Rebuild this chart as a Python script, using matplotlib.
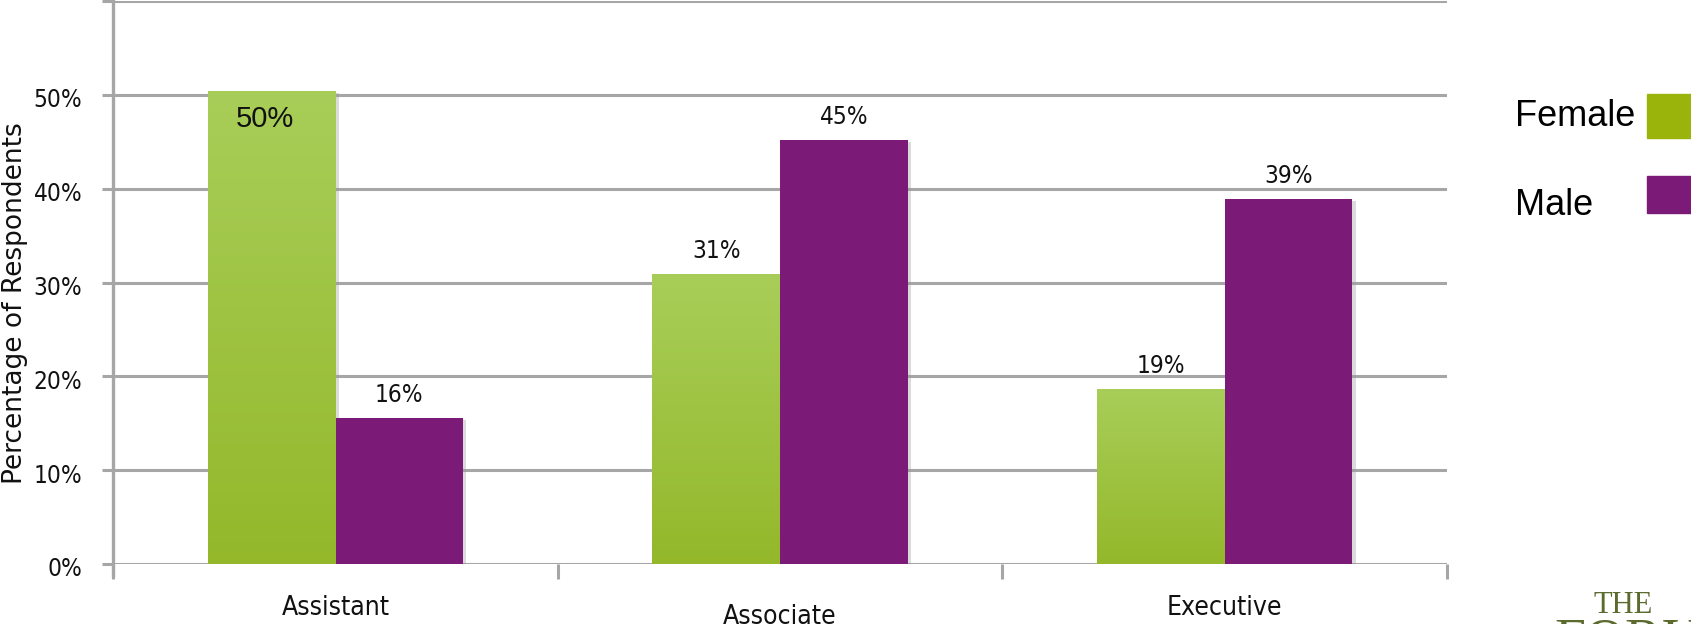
import numpy as np
import matplotlib
matplotlib.use("Agg")
import matplotlib.pyplot as plt
from matplotlib.patheffects import SimplePatchShadow, Normal
from matplotlib.ticker import FuncFormatter
from matplotlib.transforms import ScaledTranslation
from matplotlib import font_manager

# Survey data: share of respondents by position level and gender
categories = ["Assistant", "Associate", "Executive"]
female = [50.4, 30.9, 18.6]
male = [15.6, 45.2, 38.9]
series_names = ["Female", "Male"]
y_ticks = [0, 10, 20, 30, 40, 50, 60]

GREEN_TOP = "#A8CE59"
GREEN_BOTTOM = "#94B82A"
GREEN_KEY = "#9AB40B"
PURPLE = "#7B1A77"
GRID = "#A6A6A6"

# narrow face for the numbers, with a condensed fallback
_names = {f.name for f in font_manager.fontManager.ttflist}
if "Liberation Sans Narrow" in _names:
    NUM_FONT = dict(family="Liberation Sans Narrow")
    TICK_SIZE, VAL_SIZE = 20, 17.5
else:
    NUM_FONT = dict(family="DejaVu Sans", stretch="condensed")
    TICK_SIZE, VAL_SIZE = 17.5, 17.5

fig = plt.figure(figsize=(16.91, 6.24), dpi=100)
ax = fig.add_axes([113 / 1691, 60 / 624, (1447 - 113) / 1691, (623 - 60) / 624])

x = np.arange(len(categories))
w = 0.287

shadow = [SimplePatchShadow(offset=(2.5, -1.5), shadow_rgbFace="#9a9a9a", alpha=0.35), Normal()]

fem_bars = ax.bar(x - w / 2, female, width=w, color=GREEN_BOTTOM, zorder=3,
                  path_effects=shadow, linewidth=0)
male_bars = ax.bar(x + w / 2, male, width=w, color=PURPLE, zorder=3,
                   path_effects=shadow, linewidth=0)

# vertical gradient fill for the green bars
grad = np.linspace(0, 1, 256).reshape(-1, 1)
cmap = matplotlib.colors.LinearSegmentedColormap.from_list("g", [GREEN_BOTTOM, GREEN_TOP])
for b in fem_bars:
    x0, y0 = b.get_x(), b.get_y()
    im = ax.imshow(grad, cmap=cmap, origin="lower", aspect="auto",
                   extent=(x0, x0 + b.get_width(), y0, y0 + b.get_height()),
                   zorder=3.5, interpolation="bicubic")
    im.set_clip_path(b)

ax.set_xlim(-0.5, len(categories) - 0.5)
ax.set_ylim(0, 60)

# grid and spines
ax.set_yticks(y_ticks)
ax.yaxis.set_major_formatter(FuncFormatter(lambda v, p: "" if v >= 60 else f"{v:.0f}%"))
ax.grid(axis="y", color=GRID, linewidth=2.2, zorder=0)
for s in ["top", "right", "bottom"]:
    ax.spines[s].set_visible(False)
ax.spines["left"].set_color(GRID)
ax.spines["left"].set_linewidth(2.4)
ax.spines["left"].set_bounds(-1.2, 60)
ax.spines["left"].set_zorder(4)
ax.tick_params(axis="y", length=8, width=2.2, color=GRID, pad=14,
               labelsize=TICK_SIZE, labelcolor="#111111")
for lab in ax.get_yticklabels():
    lab.set_fontfamily(NUM_FONT["family"])
    if "stretch" in NUM_FONT:
        lab.set_fontstretch(NUM_FONT["stretch"])
    lab.set_transform(lab.get_transform() + ScaledTranslation(0, -3 / 100, fig.dpi_scale_trans))

# category separators below the baseline
ax.set_xticks(np.arange(len(categories) + 1) - 0.5, minor=False)
ax.set_xticklabels([])
ax.tick_params(axis="x", length=11, width=2.2, color=GRID)
ax.set_xticks(x, minor=True)
ax.set_xticklabels(categories, minor=True)
ax.tick_params(axis="x", which="minor", length=0, pad=22, labelsize=19, labelcolor="#111111")
for i, lab in enumerate(ax.get_xticklabels(minor=True)):
    lab.set_fontstretch("condensed")
    if i == 1:
        lab.set_transform(lab.get_transform() + ScaledTranslation(0, -9 / 100, fig.dpi_scale_trans))

ax.set_ylabel("Percentage of Respondents", fontsize=19, color="#111111")
ax.yaxis.set_label_coords(-0.0635, 0.4625)

# value labels
def value_label(bar, v):
    cx = bar.get_x() + bar.get_width() / 2
    ax.annotate(f"{v:.0f}%", (cx, v), xytext=(0, 11), textcoords="offset pixels",
                ha="center", va="bottom", fontsize=VAL_SIZE, color="#111111", zorder=6,
                **NUM_FONT)

for i, (b, v) in enumerate(zip(fem_bars, female)):
    if i == 0:
        cx = b.get_x() + b.get_width() / 2
        ax.annotate(f"{v:.0f}%", (cx, v), xytext=(-7, -28), textcoords="offset pixels",
                    ha="center", va="center", fontsize=21, family="Liberation Sans",
                    color="#111111", zorder=6)
    else:
        value_label(b, v)
for b, v in zip(male_bars, male):
    value_label(b, v)

# legend at right edge
key_colors = [GREEN_KEY, PURPLE]
key_y = [117, 206]
for name, c, yy in zip(series_names, key_colors, key_y):
    fig.text(1515 / 1691, 1 - yy / 624, name, fontsize=26, family="Liberation Sans",
             ha="left", va="center", color="#000000")
fig.patches.append(matplotlib.patches.Rectangle((1647 / 1691, 1 - 138 / 624), 50 / 1691, 44 / 624,
                                                transform=fig.transFigure, color=key_colors[0]))
fig.patches.append(matplotlib.patches.Rectangle((1647 / 1691, 1 - 213 / 624), 50 / 1691, 37 / 624,
                                                transform=fig.transFigure, color=key_colors[1]))

# logo mark, bottom right
fig.text(1594 / 1691, 1 - 591 / 624, "THE", fontsize=22, family="Liberation Serif",
         color="#5B6B2E", ha="left", va="top")
fig.text(1554 / 1691, 1 - 617 / 624, "FORUM", fontsize=40, family="Liberation Serif",
         color="#5B6B2E", ha="left", va="top")

fig.savefig("out.png", dpi=100)
